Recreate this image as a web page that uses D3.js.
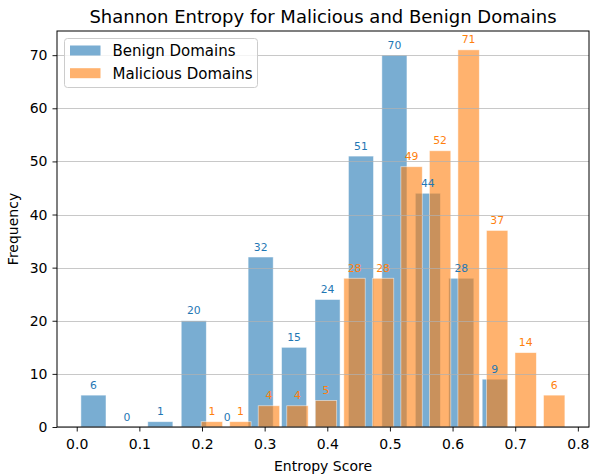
<!DOCTYPE html>
<html>
<head>
<meta charset="utf-8">
<script src="https://cdn.jsdelivr.net/npm/d3@7"></script>
<style>
  html, body { margin: 0; padding: 0; background: #fff; }
  svg { display: block; font-family: "DejaVu Sans", sans-serif; }
</style>
</head>
<body>
<div id="chart"></div>
<script>
// histogram counts
const benignCounts = [6, 0, 1, 20, 0, 32, 15, 24, 51, 70, 44, 28, 9];
const maliciousCounts = [1, 1, 4, 4, 5, 28, 28, 49, 52, 71, 37, 14, 6];
// bin range (first edge, last edge) of each histogram
const benignRange = [0.0, 0.694];
const maliciousRange = [0.193, 0.785];
const xTicks = [0, 0.1, 0.2, 0.3, 0.4, 0.5, 0.6, 0.7, 0.8];
const yTicks = [0, 10, 20, 30, 40, 50, 60, 70];
const seriesNames = ['Benign Domains', 'Malicious Domains'];

const width = 590,
  height = 474;
// plot box (note: "top" is taken by window.top, so use a box object)
const box = {left: 57, right: 589, top: 31, bottom: 427};

const blue = '#1f77b4',
  orange = '#ff7f0e';

const x = d3.scaleLinear().domain([-0.0315, 0.8178]).range([box.left, box.right]);
const y = d3.scaleLinear().domain([0, 74.55]).range([box.bottom, box.top]);

const svg = d3
  .select('#chart')
  .append('svg')
  .attr('width', width)
  .attr('height', height);

// turn counts + range into bins
function makeBins(counts, range) {
  const w = (range[1] - range[0]) / counts.length;
  return counts.map((c, i) => ({x0: range[0] + i * w, x1: range[0] + (i + 1) * w, count: c}));
}

function drawHist(bins, color) {
  svg.append('g')
    .selectAll('rect')
    .data(bins)
    .enter()
    .append('rect')
    .attr('x', d => x(d.x0 + (d.x1 - d.x0) * 0.125))
    .attr('width', d => (x(d.x1) - x(d.x0)) * 0.75)
    .attr('y', d => y(d.count))
    .attr('height', d => y(0) - y(d.count))
    .attr('fill', color)
    .attr('fill-opacity', 0.6)
    .attr('stroke', '#fff')
    .attr('stroke-opacity', 0.6)
    .attr('stroke-width', 0.8);
}

function drawLabels(bins, color) {
  svg.append('g')
    .selectAll('text')
    .data(bins)
    .enter()
    .append('text')
    .attr('x', d => x((d.x0 + d.x1) / 2))
    .attr('y', d => y(d.count) - 6.5)
    .attr('text-anchor', 'middle')
    .attr('font-size', '10.8px')
    .attr('fill', color)
    .text(d => d.count);
}

const benignBins = makeBins(benignCounts, benignRange);
const maliciousBins = makeBins(maliciousCounts, maliciousRange);

drawHist(benignBins, blue);
drawHist(maliciousBins, orange);

// horizontal grid (matplotlib draws it over the patches)
svg.append('g')
  .selectAll('line')
  .data(yTicks)
  .enter()
  .append('line')
  .attr('x1', box.left)
  .attr('x2', box.right)
  .attr('y1', d => Math.round(y(d)) + 0.5)
  .attr('y2', d => Math.round(y(d)) + 0.5)
  .attr('stroke', '#b0b0b0')
  .attr('stroke-opacity', 0.7)
  .attr('stroke-width', 1);

drawLabels(benignBins, blue);
drawLabels(maliciousBins, orange);

// axes
const xAxis = d3.axisBottom(x).tickValues(xTicks).tickFormat(d3.format('.1f')).tickSize(4.5).tickPadding(7.5);
const yAxis = d3.axisLeft(y).tickValues(yTicks).tickFormat(d3.format('d')).tickSize(4.5).tickPadding(5);

const gx = svg.append('g').attr('transform', `translate(0,${box.bottom})`).call(xAxis);
const gy = svg.append('g').attr('transform', `translate(${box.left},0)`).call(yAxis);
[gx, gy].forEach(g => {
  g.attr('font-size', null).attr('font-family', null);
  g.select('.domain').remove();
  g.selectAll('text').attr('font-size', '14px').attr('fill', '#000');
  g.selectAll('line').attr('stroke', '#000').attr('stroke-width', 0.9);
});

// frame
svg.append('rect')
  .attr('x', box.left)
  .attr('y', box.top)
  .attr('width', box.right - box.left)
  .attr('height', box.bottom - box.top)
  .attr('fill', 'none')
  .attr('stroke', '#000')
  .attr('stroke-width', 1);

// titles
svg.append('text')
  .attr('x', (box.left + box.right) / 2)
  .attr('y', 22.5)
  .attr('text-anchor', 'middle')
  .attr('font-size', '18px')
  .text('Shannon Entropy for Malicious and Benign Domains');

svg.append('text')
  .attr('x', (box.left + box.right) / 2)
  .attr('y', 471)
  .attr('text-anchor', 'middle')
  .attr('font-size', '14px')
  .text('Entropy Score');

svg.append('text')
  .attr('transform', `translate(18,${(box.top + box.bottom) / 2}) rotate(-90)`)
  .attr('text-anchor', 'middle')
  .attr('font-size', '14px')
  .text('Frequency');

// legend
const legend = svg.append('g').attr('transform', 'translate(64.5,38.5)');
legend.append('rect')
  .attr('width', 193)
  .attr('height', 49)
  .attr('rx', 3)
  .attr('fill', '#fff')
  .attr('fill-opacity', 0.8)
  .attr('stroke', '#cccccc')
  .attr('stroke-width', 1);

const items = legend.selectAll('g.item')
  .data(seriesNames)
  .enter()
  .append('g')
  .attr('class', 'item')
  .attr('transform', (d, i) => `translate(0,${i * 22.7})`);

items.append('rect')
  .attr('x', 5.5)
  .attr('y', 7)
  .attr('width', 30.5)
  .attr('height', 10)
  .attr('fill', (d, i) => (i === 0 ? blue : orange))
  .attr('fill-opacity', 0.6);

items.append('text')
  .attr('x', 48)
  .attr('y', 17.5)
  .attr('font-size', '15px')
  .text(d => d);
</script>
</body>
</html>
